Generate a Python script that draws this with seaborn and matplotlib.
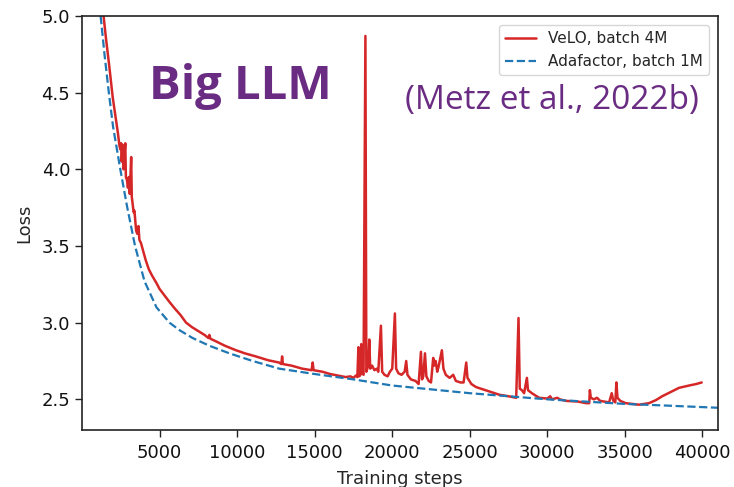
import matplotlib
matplotlib.use("Agg")
import matplotlib.pyplot as plt
import seaborn as sns
import pandas as pd

# ---------------- data ----------------
velo_steps = [1390, 1550, 1750, 1980, 2150, 2310, 2380, 2420, 2480, 2520, 2560, 2620, 2680,
              2740, 2790, 2830, 2900, 2960, 3020, 3080, 3170, 3210, 3280, 3330, 3380, 3420,
              3490, 3560, 3640, 3700, 3800, 3910, 4100, 4300, 4500, 4790, 5000, 5300, 5600,
              6000, 6350, 6710, 7100, 7500, 7900, 8150, 8210, 8280, 8600, 9200, 9930, 10500,
              11200, 12000, 12700, 12850, 12900, 12950, 13500, 14200, 14800, 14870, 14930,
              15500, 16000, 16500, 17000, 17300, 17500, 17650, 17750, 17820, 17870, 17950,
              18000, 18060, 18150, 18270, 18330, 18450, 18520, 18580, 18700, 18850, 19000,
              19100, 19270, 19350, 19500, 19700, 19850, 20000, 20170, 20250, 20400, 20600,
              20800, 20900, 20980, 21200, 21500, 21700, 21850, 21920, 22000, 22110, 22200,
              22350, 22500, 22640, 22700, 22800, 22900, 22980, 23200, 23300, 23450, 23700,
              23930, 24100, 24400, 24600, 24770, 24850, 25100, 25400, 26000, 26900, 27500,
              27990, 28140, 28220, 28350, 28500, 28680, 28750, 29000, 29470, 30000, 30180,
              30300, 30640, 30800, 31190, 32000, 32480, 32700, 32740, 32800, 33000, 33200,
              33400, 33980, 34150, 34250, 34380, 34450, 34520, 34700, 35050, 35500, 35910,
              36550, 37000, 37400, 38000, 38490, 39130, 39600, 39950]
velo_loss = [5.00, 4.85, 4.68, 4.47, 4.35, 4.24, 4.18, 4.15, 4.13, 4.17, 4.05, 4.16, 4.00,
             4.10, 4.17, 3.95, 3.93, 3.88, 3.95, 3.84, 4.08, 3.82, 3.76, 3.72, 3.73, 3.68,
             3.60, 3.58, 3.63, 3.54, 3.52, 3.48, 3.41, 3.35, 3.31, 3.26, 3.22, 3.18, 3.14,
             3.09, 3.05, 3.00, 2.97, 2.945, 2.92, 2.90, 2.92, 2.895, 2.88, 2.85, 2.82, 2.80,
             2.78, 2.755, 2.74, 2.73, 2.78, 2.73, 2.72, 2.70, 2.69, 2.74, 2.69,
             2.68, 2.665, 2.655, 2.645, 2.65, 2.64, 2.655, 2.645, 2.84, 2.65, 2.66,
             2.86, 2.67, 2.66, 4.87, 2.68, 2.72, 2.89, 2.70, 2.72, 2.69, 2.70,
             2.68, 2.98, 2.68, 2.66, 2.65, 2.68, 2.70, 3.06, 2.70, 2.67, 2.66,
             2.68, 2.75, 2.66, 2.63, 2.62, 2.60, 2.81, 2.63, 2.65, 2.80, 2.65,
             2.62, 2.61, 2.77, 2.72, 2.75, 2.68, 2.71, 2.82, 2.70, 2.66, 2.64,
             2.66, 2.62, 2.61, 2.61, 2.74, 2.64, 2.60, 2.58, 2.56, 2.53, 2.52,
             2.51, 3.03, 2.57, 2.56, 2.54, 2.64, 2.56, 2.54, 2.51, 2.505, 2.52,
             2.50, 2.51, 2.50, 2.49, 2.485, 2.475, 2.475, 2.56, 2.51, 2.50, 2.51,
             2.49, 2.48, 2.54, 2.49, 2.48, 2.61, 2.51, 2.49, 2.475, 2.47, 2.465,
             2.475, 2.495, 2.52, 2.55, 2.575, 2.59, 2.60, 2.61]

ada_steps = [1200, 1450, 1730, 2000, 2470, 2900, 3420, 4030, 4800, 5640, 6300, 7130, 8200,
             9500, 11000, 12720, 15000, 17500, 20000, 22500, 25000, 27500, 30000, 32500,
             35000, 37500, 41000]
ada_loss = [5.00, 4.75, 4.50, 4.28, 4.00, 3.76, 3.50, 3.27, 3.10, 3.00, 2.95, 2.90, 2.85,
            2.80, 2.75, 2.70, 2.665, 2.63, 2.59, 2.565, 2.54, 2.52, 2.50, 2.485,
            2.47, 2.46, 2.445]

velo_label = "VeLO, batch 4M"
ada_label = "Adafactor, batch 1M"
x_ticks = [5000, 10000, 15000, 20000, 25000, 30000, 35000, 40000]
y_ticks = [2.5, 3.0, 3.5, 4.0, 4.5, 5.0]

# ---------------- plot ----------------
sns.set_theme(style="ticks")
plt.rcParams["font.family"] = ["DejaVu Sans"]

fig = plt.figure(figsize=(7.34, 4.87), dpi=100)
ax = fig.add_axes([82 / 734, 1 - 430 / 487, (718 - 82) / 734, (430 - 16) / 487])

df_velo = pd.DataFrame({"step": velo_steps, "loss": velo_loss})
df_ada = pd.DataFrame({"step": ada_steps, "loss": ada_loss})

sns.lineplot(data=df_velo, x="step", y="loss", ax=ax, color="#d62728", lw=1.8,
             label=velo_label, sort=False, estimator=None)
sns.lineplot(data=df_ada, x="step", y="loss", ax=ax, color="#1f77b4", lw=1.6,
             linestyle="--", label=ada_label, sort=False, estimator=None)

ax.set_xlim(0, 41000)
ax.set_ylim(2.3, 5.0)
ax.set_xticks(x_ticks)
ax.set_yticks(y_ticks)
ax.set_xticklabels([str(t) for t in x_ticks])
ax.set_yticklabels([f"{t:.1f}" for t in y_ticks])
ax.tick_params(labelsize=13, length=5, width=1, colors="#222222", labelcolor="#111111")
ax.tick_params(axis="x", pad=5)
for s in ax.spines.values():
    s.set_visible(True)
    s.set_linewidth(1.2)
    s.set_color("#222222")
ax.set_xlabel("Training steps", fontsize=13, labelpad=6)
ax.set_ylabel("Loss", fontsize=13, labelpad=6)

leg = ax.legend(loc="upper right", fontsize=11, frameon=True, borderaxespad=0.6)
leg.get_frame().set_edgecolor("#cccccc")

fig.text(240 / 734, 1 - 86 / 487, "Big LLM", fontsize=34, fontweight="bold",
         family=["Open Sans", "DejaVu Sans"], color="#6a2c82", ha="center", va="center")
fig.text(552 / 734, 1 - 101 / 487, "(Metz et al., 2022b)", fontsize=24,
         family=["Open Sans", "DejaVu Sans"], color="#6a2c82", ha="center", va="center")

fig.savefig("out.png", dpi=100)
